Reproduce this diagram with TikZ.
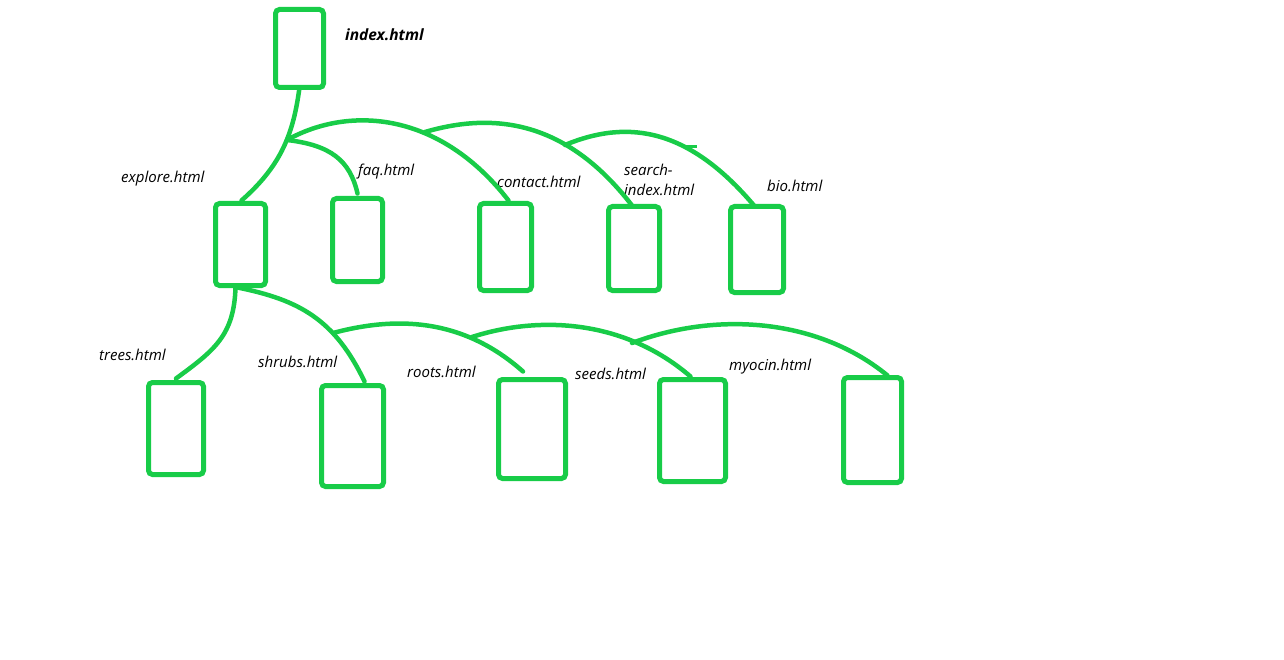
\documentclass[tikz,border=0pt]{standalone}
\usepackage{fontspec}
\setmainfont{Open Sans}
\usetikzlibrary{calc}
\definecolor{grn}{RGB}{24,204,72}
\tikzset{
  page/.style={draw=grn, line width=5pt, rounded corners=4pt, inner sep=0pt, outer sep=0pt},
  link/.style={draw=grn, line width=4.5pt, line cap=round},
  lbl/.style={anchor=west, inner sep=0pt, font=\itshape\fontsize{15}{20}\selectfont}
}
\begin{document}
\begin{tikzpicture}[x=1pt,y=-1pt]
\useasboundingbox (0,0) rectangle (1284,660);
% boxes
\node[page, minimum width=48pt, minimum height=78pt] (index) at (299.5,48.5) {};
\node[page, minimum width=50pt, minimum height=82pt] (explore) at (240.5,244.5) {};
\node[page, minimum width=50pt, minimum height=83pt] (faq) at (357.5,240) {};
\node[page, minimum width=52pt, minimum height=87pt] (contact) at (505.5,247) {};
\node[page, minimum width=51pt, minimum height=84pt] (search) at (634,248.5) {};
\node[page, minimum width=53pt, minimum height=86pt] (bio) at (757,249.5) {};
\node[page, minimum width=55pt, minimum height=92pt] (trees) at (176,428.5) {};
\node[page, minimum width=62pt, minimum height=101pt] (shrubs) at (352.5,436) {};
\node[page, minimum width=67pt, minimum height=99pt] (roots) at (532,429) {};
\node[page, minimum width=66pt, minimum height=102pt] (seeds) at (692.5,430.5) {};
\node[page, minimum width=58pt, minimum height=105pt] (myocin) at (872.5,430) {};
% labels
\node[anchor=west, inner sep=0pt, font=\bfseries\itshape\fontsize{15.5}{20}\selectfont] (lindex) at (345,35) {index.html};
\node[lbl] (lexplore) at (121,179) {explore.html};
\node[lbl] (lfaq) at (358,172) {faq.html};
\node[lbl] (lcontact) at (497,182) {contact.html};
\node[lbl, align=left] (lsearch) at (624,180) {search-\\index.html};
\node[lbl] (lbio) at (767,186) {bio.html};
\node[lbl] (ltrees) at (99,355) {trees.html};
\node[lbl] (lshrubs) at (258,362) {shrubs.html};
\node[lbl] (lroots) at (407,372) {roots.html};
\node[lbl] (lseeds) at (575,374) {seeds.html};
\node[lbl] (lmyocin) at (729,367) {myocin.html};
% junction coordinates
\coordinate (J1) at (287,140);
\coordinate (J2) at (425,132);
\coordinate (J3) at (565,145);
\coordinate (K1) at (333,333);
\coordinate (K2) at (472,337);
\coordinate (K3) at (632,343);
\coordinate (tick1) at (685,147);
\coordinate (tick2) at (697,147);
% upper connectors
\draw[link] (index.south) .. controls ($(index.south)+(-6,45)$) and (282,165) .. ($(explore.north)+(1,-3)$);
\draw[link] (J1) .. controls (330,145) and (350,160) .. ($(faq.north)+(0,-5)$);
\draw[link] (J1) .. controls (350,105) and (440,112) .. ($(contact.north)+(3,-3)$);
\draw[link] (J2) .. controls (500,110) and (570,125) .. ($(search.north)+(-2,-1)$);
\draw[link] (J3) .. controls (630,118) and (690,130) .. ($(bio.north)+(-3,-1)$);
\draw[draw=grn, line width=3pt] (tick1) -- (tick2);
% lower connectors
\draw[link] ($(explore.south)+(-5,2)$) .. controls (234,335) and (215,350) .. ($(trees.north)+(0,-4)$);
\draw[link] ($(explore.south)+(-3,2)$) .. controls (300,300) and (335,320) .. ($(shrubs.north)+(12,-4)$);
\draw[link] (K1) .. controls (400,315) and (465,320) .. ($(roots.north)+(-9,-8)$);
\draw[link] (K2) .. controls (540,315) and (625,320) .. ($(seeds.north)+(-2,-3)$);
\draw[link] (K3) .. controls (720,310) and (820,320) .. ($(myocin.north)+(15,-2)$);
\end{tikzpicture}
\end{document}
